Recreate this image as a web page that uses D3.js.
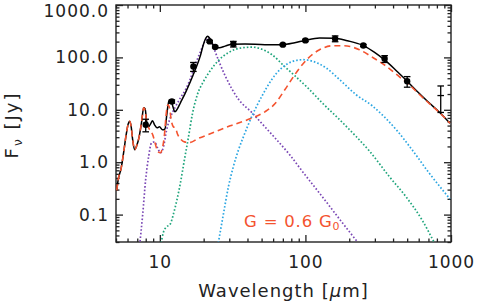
<!DOCTYPE html>
<html>
<head>
<meta charset="utf-8">
<script src="https://cdn.jsdelivr.net/npm/d3@7"></script>
<style>
  body { margin: 0; background: #fff; }
  svg { display: block; font-family: "DejaVu Sans", sans-serif; }
  text { white-space: pre; }
</style>
</head>
<body>
<svg id="chart" width="477" height="305"></svg>
<script>
// total model (black solid)
const totalWave = [5.06, 5.16, 5.43, 5.65, 5.87, 6.07, 6.21, 6.36, 6.51, 6.72, 6.93, 7.21, 7.50, 7.74, 7.93,
  8.11, 8.37, 8.64, 8.91, 9.20, 9.57, 9.95, 10.43, 10.85, 11.2, 11.56, 11.93, 12.3, 12.7, 13.2, 13.85,
  14.98, 16.2, 17.5, 19.0, 19.9, 20.7, 21.3, 22.0, 22.9, 24.0, 25.6, 28.1, 31.4, 38.5, 52.7, 68.9,
  84.5, 98.9, 125, 159, 194, 246, 297, 348, 408, 492, 604, 707, 827, 983];
const totalFlux = [0.289, 0.439, 0.778, 1.57, 3.33, 5.40, 6.03, 4.73, 2.67, 1.72, 2.05, 3.05, 5.90, 10.9, 10.4,
  6.16, 4.73, 5.40, 6.16, 5.17, 4.53, 4.73, 4.15, 4.34, 8.77, 14.9, 15.5, 11.4, 9.16, 10.4, 13.6,
  21.1, 34.3, 58.2, 108, 175, 233, 254, 233, 183, 157, 153, 164, 179, 180, 175, 175,
  191, 211, 235, 233, 208, 171, 126, 90.4, 60.8, 36.6, 20.7, 13.6, 9.16, 5.52];

// G = 0.6 G0 component (red dashed)
const pahWave = [5.06, 5.16, 5.43, 5.65, 5.87, 6.07, 6.21, 6.36, 6.51, 6.72, 6.93, 7.21, 7.50, 7.74, 7.93,
  8.11, 8.37, 8.64, 8.99, 9.35, 9.72, 10.1, 10.43, 10.76, 11.1, 11.37, 11.65, 12.0, 12.4, 12.8, 13.2,
  13.85, 14.75, 16.2, 18.1, 22.2, 30.4, 41.6, 52.7, 61.7, 72.2, 84.5, 102, 125, 154, 185, 235, 288,
  359, 441, 516, 604, 707, 827, 983];
const pahFlux = [0.289, 0.439, 0.778, 1.57, 3.33, 5.40, 6.03, 4.73, 2.67, 1.72, 2.05, 3.05, 5.90, 10.9, 9.57,
  6.16, 4.53, 3.97, 3.18, 2.14, 1.57, 1.51, 1.88, 3.33, 9.16, 12.5, 10.9, 6.16, 4.73, 4.53, 3.48,
  2.79, 2.44, 2.39, 2.79, 3.48, 4.94, 6.73, 9.16, 13.0, 24.1, 46.7, 90.4, 140, 167, 167, 140, 101,
  67.9, 42.8, 30.1, 19.8, 13.3, 9.04, 5.52];

// hot dust (purple dotted)
const hotWave = [7.27, 7.62, 7.99, 8.37, 8.78, 9.20, 9.65, 10.1, 10.6, 11.1, 11.8, 12.8, 13.85, 15.0, 16.2,
  17.5, 19.0, 20.5, 21.5, 22.5, 24.0, 28.1, 34.5, 43.0, 52.7, 61.7, 78.1, 95.9, 131, 180, 231];
const hotFlux = [0.0262, 0.098, 0.459, 1.26, 2.34, 2.44, 1.88, 1.51, 1.96, 3.97, 7.03, 11.4, 16.9, 24.1, 39.1,
  72.5, 128, 208, 238, 208, 128, 44.7, 16.2, 8.77, 4.73, 2.92, 1.38, 0.653, 0.217, 0.069, 0.0286];

// warm dust (green dotted)
const warmWave = [10.2, 10.6, 11.1, 11.8, 12.4, 13.1, 13.85, 14.75, 15.7, 16.7, 18.1, 19.9, 22.2, 25.2, 29.5,
  35.6, 43.0, 50.3, 58.9, 72.2, 84.5, 102, 131, 172, 223, 275, 377, 492, 633, 764];
const warmFlux = [0.0286, 0.0465, 0.058, 0.0661, 0.1026, 0.190, 0.402, 1.11, 2.92, 8.02, 19.4, 34.3, 55.7, 86.5, 123,
  150, 157, 143, 113, 66.4, 44.7, 27.5, 13.4, 6.44, 3.09, 1.64, 0.531, 0.217, 0.0788, 0.0299];

// cold dust (cyan dotted)
const coldWave = [25.2, 27.4, 29.6, 32.0, 34.7, 37.5, 42.8, 50.1, 58.6, 68.6, 80.6, 96.3, 113, 139, 172,
  223, 288, 348, 427, 541, 707, 983];
const coldFlux = [0.0286, 0.106, 0.341, 0.824, 1.72, 3.05, 7.45, 17.9, 37.5, 62.7, 82.7, 90.4, 83.8, 62.7, 37.5,
  19.4, 11.9, 7.35, 3.97, 1.72, 0.624, 0.199];

// observed photometry
const obsWave = [8.0, 12.1, 17.0, 22.0, 24.0, 32.0, 70.0, 100, 160, 250, 350, 500, 850];
const obsFlux = [5.2, 14.4, 67, 202, 158, 180, 175, 211, 228, 169, 94, 35, 18.7];
const obsErr = [1.4, 1.0, 13, 8, 6, 22, 7, 10, 29, 8, 14, 8, 9.8];
const obsSymbol = ['o', 'o', 'o', 'o', 'o', 'o', 'o', 'o', 'o', 'o', 'o', 'o', '-'];

// axis ticks
const xMajor = [10, 100, 1000];
const xLabels = ['10', '100', '1000'];
const yMajor = [0.1, 1, 10, 100, 1000];
const yLabels = ['0.1', '1.0', '10.0', '100.0', '1000.0'];

const svg = d3.select('#chart');
const pLeft = 116, pRight = 451, pTop = 5, pBottom = 242;

svg.append('rect').attr('width', 477).attr('height', 305).attr('fill', '#fff');

const x = d3.scaleLog().domain([5, 1000]).range([pLeft, pRight]);
const y = d3.scaleLog().domain([0.03, 1000]).range([pBottom, pTop]);

// minor ticks for each decade
const xMinor = [];
for (let d = 1; d <= 100; d *= 10) for (let k = 2; k <= 9; k++) if (k * d >= 5 && k * d < 1000) xMinor.push(k * d);
const yMinor = [];
for (let d = 0.01; d <= 100; d *= 10) for (let k = 2; k <= 9; k++) {
  const v = +(k * d).toPrecision(3);
  if (v >= 0.03 && v < 1000) yMinor.push(v);
}

svg.append('defs').append('clipPath').attr('id', 'plot')
  .append('rect').attr('x', pLeft).attr('y', pTop).attr('width', pRight - pLeft).attr('height', pBottom - pTop);

function styleAxis(g) {
  g.select('.domain').remove();
  g.attr('color', '#222');
  g.selectAll('line').attr('stroke-width', 1.3);
  g.attr('font-family', '"DejaVu Sans", sans-serif').attr('font-size', 17);
  g.selectAll('text').attr('letter-spacing', 1);
}

// bottom
svg.append('g').attr('transform', `translate(0,${pBottom})`)
  .call(d3.axisBottom(x).tickValues(xMajor).tickSize(-7).tickPadding(14).tickFormat((d, i) => xLabels[i]))
  .call(styleAxis);
svg.append('g').attr('transform', `translate(0,${pBottom})`)
  .call(d3.axisBottom(x).tickValues(xMinor).tickSize(-3.5).tickFormat(() => ''))
  .call(styleAxis);
// top
svg.append('g').attr('transform', `translate(0,${pTop})`)
  .call(d3.axisTop(x).tickValues(xMajor).tickSize(-7).tickFormat(() => ''))
  .call(styleAxis);
svg.append('g').attr('transform', `translate(0,${pTop})`)
  .call(d3.axisTop(x).tickValues(xMinor).tickSize(-3.5).tickFormat(() => ''))
  .call(styleAxis);
// left
const yAxisG = svg.append('g').attr('transform', `translate(${pLeft},0)`)
  .call(d3.axisLeft(y).tickValues(yMajor).tickSize(-7).tickPadding(7).tickFormat((d, i) => yLabels[i]))
  .call(styleAxis);
yAxisG.selectAll('.tick text').filter(d => d === 1000).attr('dy', '0.7em');
svg.append('g').attr('transform', `translate(${pLeft},0)`)
  .call(d3.axisLeft(y).tickValues(yMinor).tickSize(-3.5).tickFormat(() => ''))
  .call(styleAxis);
// right
svg.append('g').attr('transform', `translate(${pRight},0)`)
  .call(d3.axisRight(y).tickValues(yMajor).tickSize(-7).tickFormat(() => ''))
  .call(styleAxis);
svg.append('g').attr('transform', `translate(${pRight},0)`)
  .call(d3.axisRight(y).tickValues(yMinor).tickSize(-3.5).tickFormat(() => ''))
  .call(styleAxis);

// frame
svg.append('rect').attr('x', pLeft).attr('y', pTop).attr('width', pRight - pLeft).attr('height', pBottom - pTop)
  .attr('fill', 'none').attr('stroke', '#222').attr('stroke-width', 1.4);

const line = d3.line().x(d => x(d[0])).y(d => y(d[1])).curve(d3.curveMonotoneX);
const plot = svg.append('g').attr('clip-path', 'url(#plot)');

function drawCurve(wave, flux, color, width, dash) {
  plot.append('path')
    .datum(wave.map((w, i) => [w, flux[i]]))
    .attr('d', line)
    .attr('fill', 'none')
    .attr('stroke', color)
    .attr('stroke-width', width)
    .attr('stroke-dasharray', dash);
}

drawCurve(hotWave, hotFlux, '#7a47b5', 1.7, '1.6,2');
drawCurve(warmWave, warmFlux, '#1fa57c', 1.7, '1.6,2');
drawCurve(coldWave, coldFlux, '#2ba6e2', 1.7, '1.6,2');
drawCurve(totalWave, totalFlux, '#000', 1.5, null);
drawCurve(pahWave, pahFlux, '#f4532f', 1.6, '6,4');

// photometry
const obs = obsWave.map((w, i) => ({ w, f: obsFlux[i], e: obsErr[i], s: obsSymbol[i] }));
const pts = plot.append('g');
pts.selectAll('.err').data(obs).enter().append('line')
  .attr('x1', d => x(d.w)).attr('x2', d => x(d.w))
  .attr('y1', d => y(d.f - d.e)).attr('y2', d => y(d.f + d.e))
  .attr('stroke', '#000').attr('stroke-width', 1.3);
['lo', 'hi'].forEach(k => {
  pts.selectAll('.cap' + k).data(obs).enter().append('line')
    .attr('x1', d => x(d.w) - 3.3).attr('x2', d => x(d.w) + 3.3)
    .attr('y1', d => y(k === 'lo' ? d.f - d.e : d.f + d.e))
    .attr('y2', d => y(k === 'lo' ? d.f - d.e : d.f + d.e))
    .attr('stroke', '#000').attr('stroke-width', 1.3);
});
pts.selectAll('.mid').data(obs.filter(d => d.s === '-')).enter().append('line')
  .attr('x1', d => x(d.w) - 3.3).attr('x2', d => x(d.w) + 3.3)
  .attr('y1', d => y(d.f)).attr('y2', d => y(d.f))
  .attr('stroke', '#000').attr('stroke-width', 1.3);
pts.selectAll('circle').data(obs.filter(d => d.s === 'o')).enter().append('circle')
  .attr('cx', d => x(d.w)).attr('cy', d => y(d.f)).attr('r', 3.2).attr('fill', '#000');

// annotation
const ann = svg.append('text').attr('x', 244).attr('y', 226.5)
  .attr('font-size', 16.5).attr('fill', '#f4532f').attr('letter-spacing', 0.8);
ann.append('tspan').text('G = 0.6 G');
ann.append('tspan').attr('font-size', 11).attr('dy', 3.5).text('0');

// axis titles
const xt = svg.append('text').attr('x', 283.5).attr('y', 297)
  .attr('text-anchor', 'middle').attr('font-size', 18).attr('fill', '#222').attr('letter-spacing', 1);
xt.append('tspan').text('Wavelength [');
xt.append('tspan').attr('font-style', 'italic').text('μ');
xt.append('tspan').text('m]');

const yt = svg.append('text').attr('transform', 'translate(18,125) rotate(-90)')
  .attr('text-anchor', 'middle').attr('font-size', 18).attr('fill', '#222').attr('letter-spacing', 2);
yt.append('tspan').text('F');
yt.append('tspan').attr('font-size', 12).attr('dy', 4).text('ν');
yt.append('tspan').attr('dy', -4).text(' [Jy]');
</script>
</body>
</html>
